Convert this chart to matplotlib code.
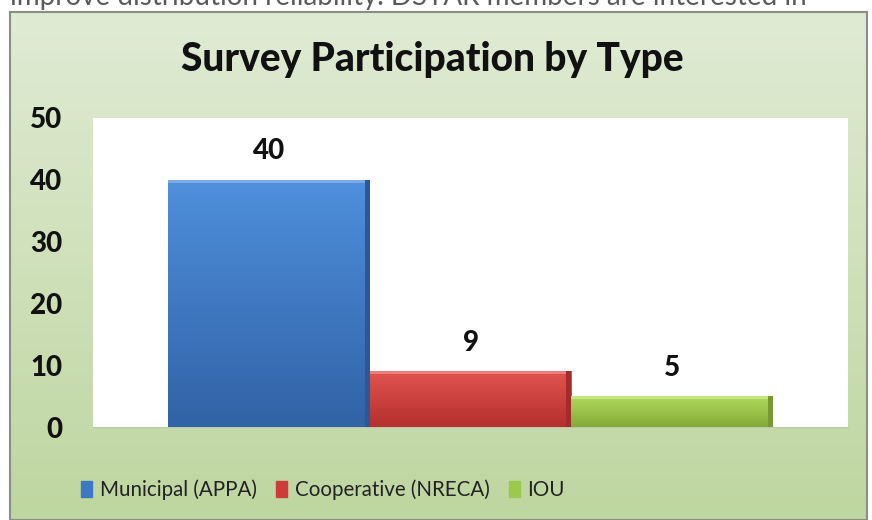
import matplotlib.pyplot as plt
import numpy as np
from matplotlib.colors import to_rgb
from matplotlib.patches import Rectangle

# данные
series = ["Municipal (APPA)", "Cooperative (NRECA)", "IOU"]
values = [40, 9, 5]
colors_top = ["#4f8fdc", "#e2534f", "#addb5a"]
colors_bot = ["#3163a6", "#b5302e", "#84aa38"]
colors_main = ["#3d78c6", "#cf3b38", "#9cc84c"]
yticks = [0, 10, 20, 30, 40, 50]
title = "Survey Participation by Type"
page_text = "improve distribution reliability. DSTAR members are interested in"

fnt = ["Lato", "DejaVu Sans"]

fig = plt.figure(figsize=(8.72, 5.2), dpi=100)
fig.patch.set_facecolor("white")

# зелёный градиентный фон диаграммы
bg = fig.add_axes([10 / 872, 0, 857 / 872, 508 / 520], zorder=-2)
grad = np.linspace(0, 1, 256).reshape(-1, 1)
top = np.array([224, 235, 212]) / 255
bot = np.array([190, 214, 160]) / 255
bg.imshow(top + (bot - top) * grad[:, :, None], aspect="auto", extent=[0, 1, 0, 1])
bg.set_xlim(0, 1)
bg.set_ylim(0, 1)
bg.set_xticks([])
bg.set_yticks([])
for s in bg.spines.values():
    s.set_color("#8a8f86")
    s.set_linewidth(1.5)

# текст страницы сверху (обрезан, как на исходной картинке)
fig.text(10 / 872, 1 - 5 / 520, page_text, fontsize=20, color="#5a5a5a",
         family=fnt, va="baseline", ha="left")

ax = fig.add_axes([93 / 872, 1 - 427 / 520, 755 / 872, 309 / 520])
ax.set_facecolor("white")
x = np.arange(len(values)) - 1.0
bars = ax.bar(x, values, width=1.0, color=colors_main, edgecolor="none", zorder=2)
for b, ct, cb in zip(bars, colors_top, colors_bot):
    g = np.linspace(0, 1, 64).reshape(-1, 1)
    c1 = np.array(to_rgb(ct))
    c2 = np.array(to_rgb(cb))
    im = ax.imshow(c1 + (c2 - c1) * g[:, :, None], aspect="auto", zorder=3,
                   extent=[b.get_x(), b.get_x() + b.get_width(), 0, b.get_height()])
    im.set_clip_path(b)
    # светлая верхняя фаска и тёмная правая грань
    ax.add_patch(Rectangle((b.get_x(), b.get_height() - 0.5), b.get_width(), 0.5,
                           color=c1 + (1 - c1) * 0.25, zorder=4, lw=0))
    ax.add_patch(Rectangle((b.get_x() + b.get_width() * 0.975, 0), b.get_width() * 0.025,
                           b.get_height(), color=c2 * 0.9, zorder=4, lw=0))
for xi, v in zip(x, values):
    ax.text(xi, v + 2.5, str(v), ha="center", va="bottom", fontsize=20,
            fontweight=900, family=fnt, color="#111111")

ax.set_xlim(-1.87, 1.87)
ax.set_ylim(0, 50)
ax.set_yticks(yticks)
ax.set_yticklabels([str(t) for t in yticks], fontsize=20, fontweight=900,
                   family=fnt, color="#111111")
ax.set_xticks([])
ax.tick_params(axis="y", length=0, pad=22)
for s in ["top", "right", "left"]:
    ax.spines[s].set_visible(False)
ax.spines["bottom"].set_color("#b8c8a8")

fig.text(432 / 872, 1 - 60 / 520, title, ha="center", va="center", fontsize=28,
         fontweight=900, family=fnt, color="#111111")

handles = [Rectangle((0, 0), 1, 1, color=c) for c in colors_main]
leg = fig.legend(handles, series, loc="center", bbox_to_anchor=(323 / 872, 1 - 490 / 520),
                 ncol=3, frameon=False, prop={"family": fnt, "size": 14.8},
                 handlelength=0.55, handleheight=0.85, handletextpad=0.35,
                 columnspacing=0.95)
for t in leg.get_texts():
    t.set_color("#222222")

fig.savefig("out.png", dpi=100)
